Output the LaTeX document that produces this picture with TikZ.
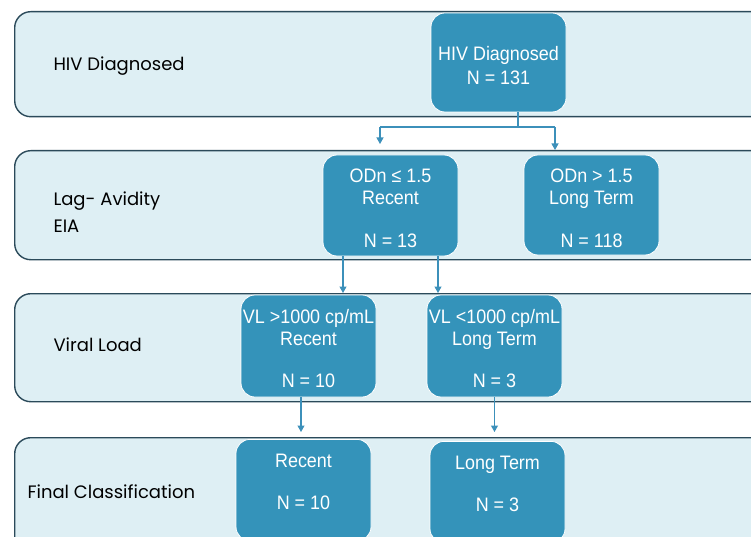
\documentclass[tikz,border=0pt]{standalone}
\usepackage{fontspec}
\setmainfont{Liberation Sans}[FakeStretch=0.92]
\newfontfamily\rowfont{Poppins}
\usetikzlibrary{arrows.meta}
\definecolor{bandfill}{HTML}{DEEFF4}
\definecolor{banddraw}{HTML}{2B4A5A}
\definecolor{boxfill}{HTML}{3493BA}
\definecolor{flowblue}{HTML}{3C90BA}
\newcommand\firstline{\rule{0pt}{20pt}}

\begin{document}
\begin{tikzpicture}[x=1pt,y=-1pt,
    band/.style={draw=banddraw, line width=1.4pt, fill=bandfill, rounded corners=16pt,
      minimum width=800pt, anchor=north west, inner sep=0pt},
    stage/.style={draw=white, line width=0.8pt, fill=boxfill, rounded corners=14pt,
      minimum width=135pt, text=white, align=center, inner sep=0pt,
      font=\fontsize{19.5}{22}\selectfont},
    rowlabel/.style={anchor=west, align=left, text=black, font=\rowfont\fontsize{18}{27}\selectfont},
    link/.style={draw=flowblue, line width=1.1pt},
    flow/.style={link, -{Triangle[width=7pt,length=6.5pt]}}]
  \clip (0,0) rectangle (751,537);

  % rows
  \node[band, minimum height=105pt] (band1) at (14,11) {};
  \node[band, minimum height=109pt] (band2) at (14,150) {};
  \node[band, minimum height=108pt] (band3) at (14,293) {};
  \node[band, minimum height=120pt] (band4) at (14,437) {};

  \node[rowlabel] (lab1) at (50,66) {HIV Diagnosed};
  \node[rowlabel] (lab2) at (50,212) {Lag- Avidity\\EIA};
  \node[rowlabel] (lab3) at (50,345) {Viral Load};
  \node[rowlabel] (lab4) at (24,492) {Final Classification};

  % boxes
  \node[stage, minimum height=99pt] (hiv) at (498.5,62.5) {\firstline HIV Diagnosed\\[2pt]N = 131};
  \node[stage, minimum height=101pt] (recent1) at (390.5,205.5) {\firstline ODn ≤ 1.5\\Recent\\[21pt]N = 13};
  \node[stage, minimum height=100pt] (long1) at (591.5,205) {\firstline ODn > 1.5\\Long Term\\[21pt]N = 118};
  \node[stage, minimum height=102pt] (recent2) at (308.5,346) {\firstline VL >1000 cp/mL\\Recent\\[20pt]N = 10};
  \node[stage, minimum height=102pt] (long2) at (494.5,346) {\firstline VL <1000 cp/mL\\Long Term\\[20pt]N = 3};
  \node[stage, anchor=north, inner ysep=15pt, text depth=16pt] (recent3) at (303.5,439) {Recent\\[20pt]N = 10};
  \node[stage, anchor=north, inner ysep=15pt, text depth=16pt] (long3) at (497.5,441) {Long Term\\[20pt]N = 3};

  % connectors
  \coordinate (split) at (518,127);
  \coordinate (forkL) at (380,127);
  \coordinate (forkR) at (555,127);
  \draw[link] (hiv.south -| split) -- (split);
  \draw[link] (forkL) -- (forkR);
  \draw[flow, shorten >=6pt] (forkL) -- (forkL |- band2.north);
  \draw[flow] (forkR) -- (forkR |- band2.north);

  \draw[flow] ([xshift=-47.5pt]recent1.south) -- ([xshift=-47.5pt]recent1.south |- band3.north);
  \draw[flow] ([xshift=47.5pt]recent1.south) -- ([xshift=47.5pt]recent1.south |- band3.north);

  \draw[flow, shorten >=5pt] ([xshift=-7.5pt]recent2.south) -- ([xshift=-7.5pt]recent2.south |- band4.north);
  \draw[flow, shorten >=5pt] (long2.south) -- (long2.south |- band4.north);
\end{tikzpicture}
\end{document}
